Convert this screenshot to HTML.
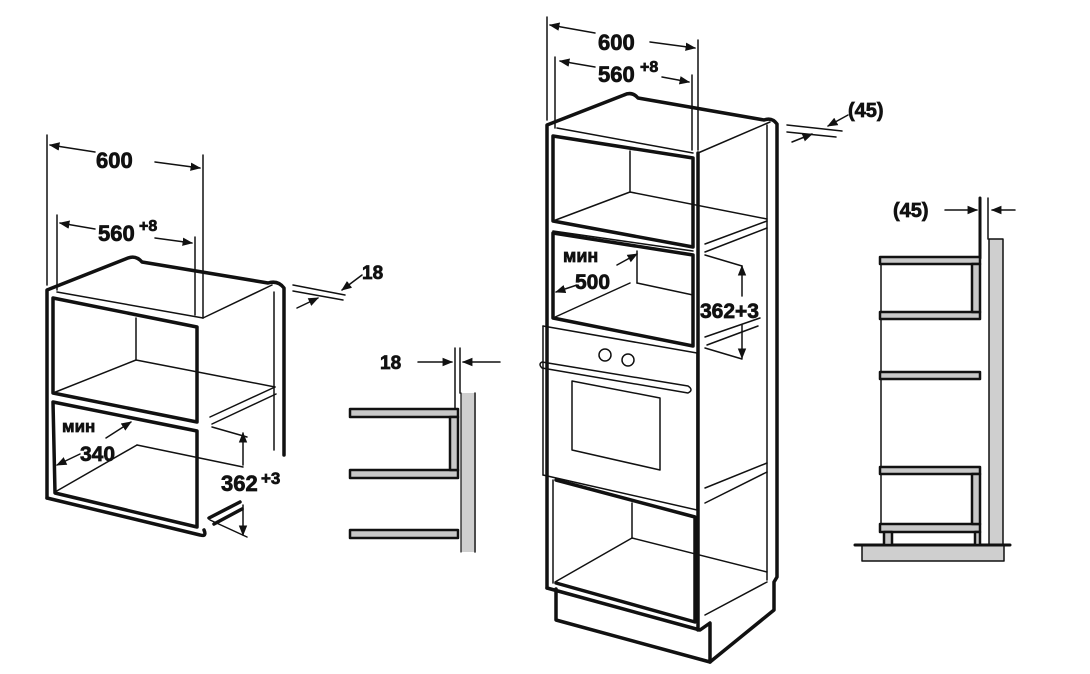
<!DOCTYPE html>
<html><head><meta charset="utf-8"><style>
html,body{margin:0;padding:0;background:#fff;}
svg{display:block;}
text{font-family:"Liberation Sans",Arial,sans-serif;font-weight:bold;fill:#111;stroke:#111;stroke-width:0.7;}
</style></head><body>
<svg width="1090" height="674" viewBox="0 0 1090 674" xmlns="http://www.w3.org/2000/svg">
<defs>
<marker id="a" viewBox="0 0 10 10" refX="9" refY="5" markerWidth="7" markerHeight="7" orient="auto-start-reverse"><path d="M0,1 L10,5 L0,9 z" fill="#111"/></marker>
</defs>
<g stroke="#111" fill="none" stroke-linejoin="round" stroke-linecap="round">

<!-- ===== LEFT CABINET ===== -->
<g stroke-width="1.5">
<line x1="47" y1="135" x2="47" y2="285"/>
<line x1="203" y1="155" x2="203" y2="318"/>
<line x1="57" y1="215" x2="57" y2="290"/>
<line x1="195" y1="237" x2="195" y2="315"/>
<line x1="95" y1="152" x2="50" y2="145" marker-end="url(#a)"/>
<line x1="155" y1="162" x2="200" y2="168" marker-end="url(#a)"/>
<line x1="95" y1="229" x2="60" y2="223" marker-end="url(#a)"/>
<line x1="155" y1="238" x2="192" y2="243" marker-end="url(#a)"/>
<line x1="57" y1="292" x2="203" y2="318"/>
<line x1="203" y1="318" x2="272" y2="285"/>
<line x1="136" y1="318" x2="136" y2="360"/>
<line x1="136" y1="360" x2="275" y2="387"/>
<line x1="53" y1="393" x2="136" y2="360"/>
<line x1="210" y1="417" x2="275" y2="387"/>
<line x1="212" y1="424" x2="276" y2="394"/>
<line x1="55" y1="492" x2="137" y2="445"/>
<line x1="137" y1="445" x2="243" y2="467"/>
<line x1="274" y1="292" x2="274" y2="450"/>
<line x1="212" y1="427" x2="247" y2="437"/>
<line x1="210" y1="520" x2="247" y2="537"/>
<line x1="243" y1="465" x2="243" y2="433" marker-end="url(#a)"/>
<line x1="243" y1="505" x2="243" y2="535" marker-end="url(#a)"/>
<line x1="293" y1="285" x2="345" y2="295"/>
<line x1="293" y1="291" x2="343" y2="300"/>
<line x1="362" y1="275" x2="342" y2="290" marker-end="url(#a)"/>
<line x1="297" y1="308" x2="318" y2="298" marker-end="url(#a)"/>
<line x1="106" y1="438" x2="131" y2="422" marker-end="url(#a)"/>
<line x1="80" y1="454" x2="57" y2="465" marker-end="url(#a)"/>
</g>
<g stroke-width="3.5">
<path d="M47,498 L47,290 L128,258 Q136,255 142,262 L268,283 Q278,280 284,288 L284,455"/>
<path d="M53,298 L197,327 L197,422 L53,393 Z"/>
<path d="M53,402 L197,431 L197,527 L55,493 Z"/>
<path d="M47,498 L200,535 Q207,537 204,530"/>
<line x1="209" y1="518" x2="240" y2="502"/>
<line x1="214" y1="524" x2="242" y2="509"/>
</g>

<!-- ===== MIDDLE BRACKET ===== -->
<rect x="461" y="393" width="13" height="159" fill="#cfcfcf" stroke="none"/>
<line x1="475" y1="393" x2="475" y2="552" stroke-width="1.5"/>
<line x1="461" y1="393" x2="461" y2="552" stroke-width="1.2"/>
<g fill="#c8c8c8" stroke-width="2.5">
<rect x="350" y="409" width="108" height="8"/>
<rect x="350" y="470" width="108" height="8"/>
<rect x="350" y="530" width="108" height="8"/>
<rect x="450" y="417" width="8" height="53"/>
</g>
<g stroke-width="1.5">
<line x1="455" y1="348" x2="455" y2="408"/>
<line x1="460" y1="348" x2="460" y2="393"/>
<line x1="418" y1="362" x2="452" y2="362" marker-end="url(#a)"/>
<line x1="500" y1="362" x2="463" y2="362" marker-end="url(#a)"/>
</g>

<!-- ===== RIGHT SECTION ===== -->
<rect x="989" y="239" width="14" height="306" fill="#cfcfcf" stroke="#111" stroke-width="1.5"/>
<rect x="862" y="545" width="142" height="16" fill="#cfcfcf" stroke="#111" stroke-width="1.5"/>
<line x1="855" y1="545" x2="1010" y2="545" stroke-width="3"/>
<line x1="980" y1="198" x2="980" y2="258" stroke-width="3"/>
<line x1="988" y1="198" x2="988" y2="239" stroke-width="1.5"/>
<line x1="881" y1="265" x2="881" y2="523" stroke-width="1.5"/>
<g fill="#c8c8c8" stroke-width="2.5">
<rect x="880" y="257" width="100" height="7"/>
<rect x="880" y="312" width="100" height="7"/>
<rect x="972" y="264" width="8" height="48"/>
<rect x="880" y="372" width="100" height="7"/>
<rect x="880" y="467" width="100" height="7"/>
<rect x="880" y="524" width="100" height="8"/>
<rect x="972" y="474" width="8" height="50"/>
<rect x="884" y="532" width="8" height="13"/>
<rect x="975" y="532" width="5" height="13"/>
</g>
<g stroke-width="1.5">
<line x1="945" y1="210" x2="977" y2="210" marker-end="url(#a)"/>
<line x1="1015" y1="210" x2="992" y2="210" marker-end="url(#a)"/>
</g>

<!-- ===== TALL CABINET ===== -->
<g stroke-width="1.5">
<line x1="547" y1="17" x2="547" y2="120"/>
<line x1="698" y1="40" x2="698" y2="150"/>
<line x1="555" y1="57" x2="555" y2="128"/>
<line x1="692" y1="75" x2="692" y2="150"/>
<line x1="595" y1="33" x2="550" y2="25" marker-end="url(#a)"/>
<line x1="650" y1="42" x2="695" y2="48" marker-end="url(#a)"/>
<line x1="595" y1="67" x2="560" y2="61" marker-end="url(#a)"/>
<line x1="662" y1="77" x2="689" y2="82" marker-end="url(#a)"/>
<line x1="557" y1="128" x2="693" y2="153"/>
<line x1="698" y1="153" x2="770" y2="122"/>
<line x1="630" y1="151" x2="630" y2="192"/>
<line x1="553" y1="221" x2="630" y2="192"/>
<line x1="630" y1="192" x2="767" y2="219"/>
<line x1="553" y1="231" x2="693" y2="251"/>
<line x1="705" y1="244" x2="767" y2="221"/>
<line x1="705" y1="252" x2="767" y2="228"/>
<line x1="637" y1="251" x2="637" y2="283"/>
<line x1="553" y1="318" x2="630" y2="283"/>
<line x1="637" y1="283" x2="693" y2="295"/>
<line x1="767" y1="125" x2="767" y2="580"/>
<line x1="705" y1="255" x2="742" y2="266"/>
<line x1="705" y1="348" x2="742" y2="359"/>
<line x1="742" y1="296" x2="742" y2="266" marker-end="url(#a)"/>
<line x1="742" y1="325" x2="742" y2="358" marker-end="url(#a)"/>
<line x1="705" y1="337" x2="760" y2="318"/>
<line x1="707" y1="345" x2="758" y2="326"/>
<line x1="543" y1="326" x2="697" y2="353"/>
<line x1="697" y1="353" x2="697" y2="510"/>
<line x1="543" y1="475" x2="697" y2="510"/>
<line x1="543" y1="326" x2="543" y2="475"/>
<circle cx="605" cy="355" r="6"/>
<circle cx="628" cy="360" r="6"/>
<path d="M542,362 L688,386 Q694,390 688,393 L542,368 Q538,364 542,362 Z"/>
<path d="M572,381 L660,398 L660,470 L572,450 Z"/>
<line x1="705" y1="488" x2="767" y2="463"/>
<line x1="705" y1="503" x2="767" y2="472"/>
<line x1="632" y1="503" x2="632" y2="538"/>
<line x1="555" y1="582" x2="632" y2="538"/>
<line x1="632" y1="538" x2="767" y2="572"/>
<line x1="705" y1="615" x2="767" y2="582"/>
<line x1="553" y1="480" x2="553" y2="583"/>
<line x1="787" y1="125" x2="842" y2="131"/>
<line x1="787" y1="132" x2="836" y2="137"/>
<line x1="848" y1="115" x2="828" y2="126" marker-end="url(#a)"/>
<line x1="792" y1="142" x2="812" y2="134" marker-end="url(#a)"/>
<line x1="617" y1="265" x2="637" y2="254" marker-end="url(#a)"/>
<line x1="577" y1="285" x2="556" y2="292" marker-end="url(#a)"/>
</g>
<g stroke-width="3.5">
<path d="M547,588 L547,125 L624,95 Q632,91 638,98 L764,120 Q772,117 777,124 L777,577 L774,582 L774,610 L710,662"/>
<path d="M553,136 L693,158 L693,247 L553,221 Z"/>
<path d="M553,233 L693,255 L693,346 L553,318 Z"/>
<path d="M556,480 L695,517 L695,622 L556,583"/>
<line x1="698" y1="153" x2="698" y2="630"/>
<path d="M547,588 L700,630 L710,623 L710,662 L556,620 L556,589"/>
</g>
</g>

<!-- TEXT -->
<text x="96" y="168" font-size="22">600</text>
<text x="98" y="241" font-size="22">560</text><text x="139" y="231" font-size="16">+8</text>
<text x="362" y="279" font-size="19">18</text>
<text x="62" y="432" font-size="17">мин</text>
<text x="80" y="461" font-size="21">340</text>
<text x="221" y="491" font-size="22">362</text><text x="261" y="484" font-size="17">+3</text>
<text x="380" y="369" font-size="19">18</text>
<text x="598" y="50" font-size="22">600</text>
<text x="598" y="82" font-size="22">560</text><text x="640" y="72" font-size="16">+8</text>
<text x="848" y="117" font-size="20">(45)</text>
<text x="893" y="217" font-size="20">(45)</text>
<text x="563" y="262" font-size="18">мин</text>
<text x="575" y="289" font-size="21">500</text>
<text x="700" y="318" font-size="21">362+3</text>
</svg>
</body></html>
